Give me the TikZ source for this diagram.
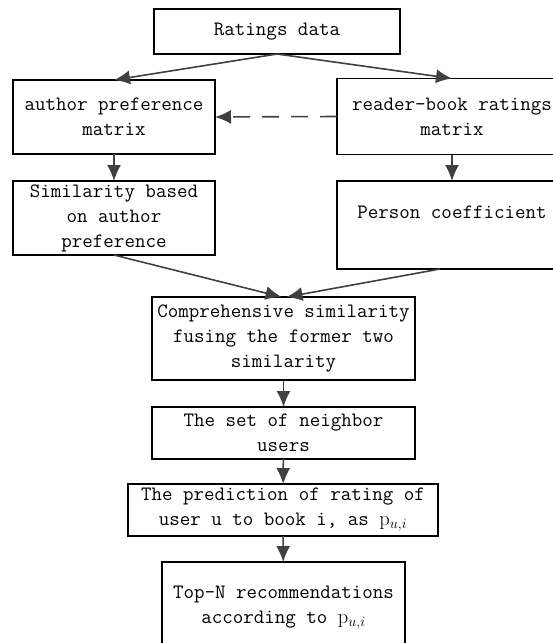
\documentclass[tikz,border=0pt]{standalone}
\usepackage{fontspec}
\usepackage{amsmath}
\usepackage{tikz}
\usetikzlibrary{calc,arrows,arrows.meta}

\begin{document}
\begin{tikzpicture}[x=1pt,y=-1pt,
    box/.style={draw=black,line width=1.2pt,rectangle,inner sep=1pt,outer sep=0pt,align=center,
      font=\fontsize{20.4}{25}\selectfont\ttfamily},
    arr/.style={draw=black!75,line width=1.6pt,-{Latex[length=16pt,width=14pt]}}]
              \useasboundingbox (0,0) rectangle (552,643);
              \node[box,minimum width=246pt,minimum height=45pt](rate)at(277,31.5){Ratings data};
              \node[box,minimum width=202pt,minimum height=74pt](auth)at(114,117){author preference\\matrix};
              \node[box,minimum width=230pt,minimum height=76pt](read)at(452,116.5){reader-book ratings\\matrix};
              \node[box,minimum width=202pt,minimum height=74pt](simi)at(114,218){Similarity based\\on author\\preference};
              \node[box,minimum width=230pt,minimum height=88pt](pers)at(452,225){Person coefficient\\~};
              \node[box,minimum width=263pt,minimum height=83pt](comp)at(283.5,338.5){Comprehensive similarity\\fusing the former two\\similarity};
              \node[box,minimum width=263pt,minimum height=52pt](neig)at(283.5,433){The set of neighbor\\users};
              \node[box,minimum width=310pt,minimum height=52pt](pred)at(283,510){The prediction of rating of\\user u to book i, as $\mathrm{p}_{u,i}$};
              \node[box,minimum width=243pt,minimum height=110pt](topn)at(283.5,617){Top-N recommendations\\according to $\mathrm{p}_{u,i}$\\~};
              \draw[arr](rate.south)--(auth.north);
              \draw[arr](rate.south)--(read.north);
              \draw[arr,dash pattern=on 17pt off 12pt](read.west)--(auth.east);
              \draw[arr](auth)--(simi);
              \draw[arr](read)--(pers);
              \draw[arr](simi.south)--([xshift=-2pt]comp.north);
              \draw[arr]([xshift=-12pt]pers.south)--([xshift=3pt]comp.north);
              \foreach \a/\b in {comp/neig, neig/pred, pred/topn} \draw[arr](\a)--(\b);
            \end{tikzpicture}
\end{document}
